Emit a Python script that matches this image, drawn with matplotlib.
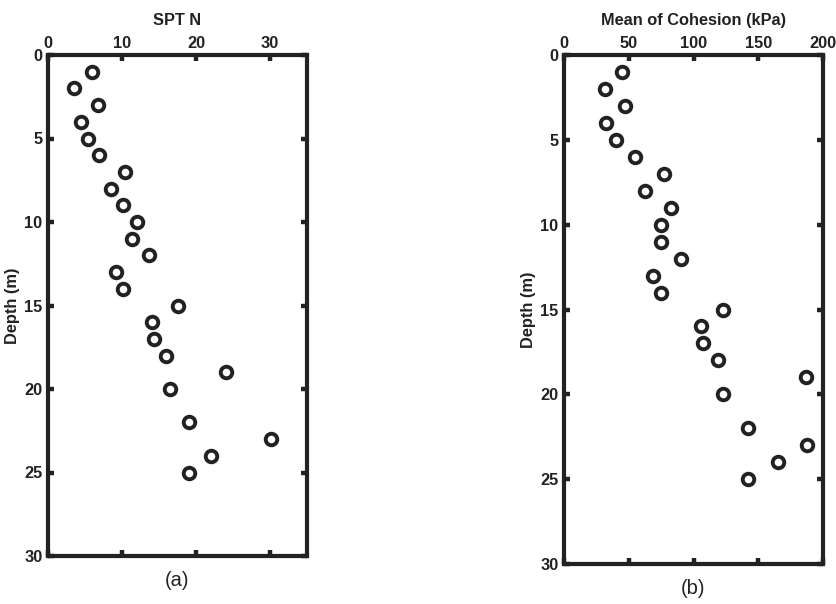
import matplotlib
matplotlib.use("Agg")
import matplotlib.pyplot as plt

plt.rcParams['font.family'] = ['Liberation Sans', 'DejaVu Sans']

depth = [1, 2, 3, 4, 5, 6, 7, 8, 9, 10, 11, 12, 13, 14, 15, 16, 17, 18, 19, 20, 22, 23, 24, 25]
spt_n = [6.0, 3.5, 6.7, 4.4, 5.4, 6.9, 10.4, 8.5, 10.1, 12.0, 11.4, 13.6, 9.2, 10.1,
         17.6, 14.1, 14.3, 15.9, 24.1, 16.5, 19.1, 30.1, 22.0, 19.1]
cohesion = [44.9, 31.5, 47.4, 32.8, 40.3, 55.1, 77.4, 62.8, 82.8, 74.9, 74.9, 90.0, 68.7, 75.1,
            122.6, 105.6, 107.2, 119.0, 187.2, 122.6, 142.3, 187.7, 165.4, 142.3]

xticks_a = [0, 10, 20, 30]
xticks_b = [0, 50, 100, 150, 200]
yticks = [0, 5, 10, 15, 20, 25, 30]

W, H = 837, 604
fig = plt.figure(figsize=(W / 100, H / 100), dpi=100)
col = '#222222'


def make_ax(l, r, t, b):
    return fig.add_axes([l / W, 1 - b / H, (r - l) / W, (b - t) / H])


ax_a = make_ax(48, 307, 55, 556)
ax_b = make_ax(564, 823, 55, 564)

panels = [
    (ax_a, spt_n, 'SPT N', xticks_a, (0, 35), '(a)'),
    (ax_b, cohesion, 'Mean of Cohesion (kPa)', xticks_b, (0, 200), '(b)'),
]

for ax, vals, xlabel, xt, xl, cap in panels:
    ax.plot(vals, depth, linestyle='none', marker='o', markersize=8.3,
            markerfacecolor='white', markeredgecolor=col, markeredgewidth=2.8, clip_on=False)
    ax.set_xlim(*xl)
    ax.set_ylim(30, 0)
    ax.set_xticks(xt)
    ax.set_yticks(yticks)
    ax.xaxis.set_label_position('top')
    ax.xaxis.tick_top()
    ax.tick_params(axis='both', which='both', direction='in', length=4, width=3.2,
                   color=col, labelcolor=col, labelsize=11.8,
                   top=True, bottom=True, left=True, right=True,
                   labeltop=True, labelbottom=False)
    ax.tick_params(axis='x', pad=3)
    ax.tick_params(axis='y', pad=4)
    for lab in ax.get_xticklabels() + ax.get_yticklabels():
        lab.set_fontweight('bold')
    for sp in ax.spines.values():
        sp.set_linewidth(3)
        sp.set_color(col)
    ax.set_xlabel(xlabel, fontsize=11.8, fontweight='bold', color=col, labelpad=7.5)
    ax.set_ylabel('Depth (m)', fontsize=11.8, fontweight='bold', color=col, labelpad=3)
    ax.annotate(cap, xy=(0.5, 0), xycoords='axes fraction', xytext=(0, -11),
                textcoords='offset points', ha='center', va='top',
                fontsize=14.5, color=col)

fig.savefig('out.png', dpi=100)
